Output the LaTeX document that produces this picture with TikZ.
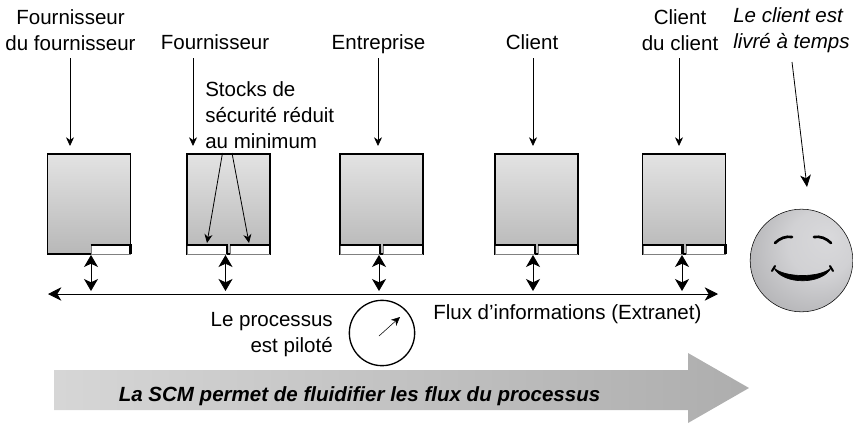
\documentclass[tikz,border=0pt]{standalone}
\usepackage{fontspec}
\setmainfont{Liberation Sans}
\usetikzlibrary{arrows.meta}
\pgfdeclareradialshading{visage}{\pgfpoint{14bp}{12bp}}{rgb(0bp)=(0.85,0.85,0.86);rgb(16bp)=(0.82,0.82,0.83);rgb(40bp)=(0.66,0.66,0.67);rgb(50bp)=(0.60,0.60,0.61)}
\begin{document}
\begin{tikzpicture}[x=0.75pt, y=-0.75pt]
	\tikzset{etiquette/.style={inner sep=0pt, align=center, font=\fontsize{15.4}{19.5}\selectfont},
	boite/.style={draw=black, thick, minimum width=62.25pt, minimum height=75pt, inner sep=0pt, shading angle=-45, top color=gray!22, bottom color=gray!56},
	casier/.style={draw=gray, fill=white, thin, minimum width=29.5pt, minimum height=6.5pt, inner sep=0pt},
	fleche/.style={semithick, -{Stealth[length=6.5pt, width=6pt, inset=2pt]}},
	double/.style={semithick, {Stealth[length=9pt, width=10.5pt, inset=2.5pt]}-{Stealth[length=9pt, width=10.5pt, inset=2.5pt]}}};
	\useasboundingbox (0,0) rectangle (853,425);

	\foreach \name/\x/\xh/\xb in {a/89/70/91, b/228.5/193/225.5, c/381.5/378/379, d/536.5/533/533, e/684/679/682}{
		\node[boite] (b-\name) at (\x, 204) {};
		\coordinate (h-\name) at (\xh, 58);
		\coordinate (p-\name) at (\xh, 146);
		\coordinate (s-\name) at (\xb, 255);
		\coordinate (f-\name) at (\xb, 291);
		\draw[fleche] (h-\name) -- (p-\name);
		\draw[double] (s-\name) -- (f-\name);
	}

	% casiers du bas
	\foreach \name/\x in {a/110.5, b1/207, b2/250, c1/360, c2/403, d1/515, d2/558, e1/662.5, e2/705.5}{
		\node[casier] (c-\name) at (\x, 249.5) {};
		\draw[line width=2pt] (c-\name.north west) -- (c-\name.north east) -- (c-\name.south east);
	}

	\node[etiquette] (l-a) at (70.5, 30) {Fournisseur\\du fournisseur};
	\node[etiquette, anchor=base] (l-b) at (215, 49) {Fournisseur};
	\node[etiquette, anchor=base] (l-c) at (378.5, 49) {Entreprise};
	\node[etiquette, anchor=base] (l-d) at (532, 49) {Client};
	\node[etiquette] (l-e) at (680, 30) {Client\\du client};
	\node[etiquette, font=\fontsize{15.4}{19.5}\selectfont\itshape, align=left, anchor=west] (l-f) at (733, 30) {Le client est\\livré à temps};
	\node[etiquette, align=left, anchor=west] (stocks) at (205, 115) {Stocks de\\sécurité réduit\\au minimum};

	\coordinate (st1) at (222.5, 153);
	\coordinate (st2) at (232, 153);
	\coordinate (ca1) at (207, 243);
	\coordinate (ca2) at (249, 243);
	\draw[fleche] (st1) -- (ca1);
	\draw[fleche] (st2) -- (ca2);

	% le client
	\node[circle, draw=black, thin, minimum size=77pt, inner sep=0pt, shading=visage] (visage) at (801.5, 260.5) {};
	\coordinate (h-f) at (792, 62);
	\coordinate (p-f) at (807, 187);
	\draw[semithick, -{Stealth[length=9pt, width=8pt, inset=2.5pt]}] (h-f) -- (p-f);
	\draw[line width=2pt, line cap=round] (775, 243) .. controls (780, 238) and (786, 236) .. (792, 237);
	\draw[line width=2pt, line cap=round] (814, 237) .. controls (820, 236) and (826, 238) .. (831, 243);
	\fill[draw=black, line width=0.5pt, line join=round] (774, 268) .. controls (785, 278) and (820, 278) .. (831, 268) .. controls (822, 285) and (783, 285) .. cycle;
	\draw[line width=1.5pt, line cap=round] (772, 271) -- (775, 266);
	\draw[line width=1.5pt, line cap=round] (833, 271) -- (830, 266);

	% flux d'informations
	\coordinate (fl-g) at (48, 294);
	\coordinate (fl-d) at (718, 294);
	\draw[semithick, {Stealth[length=10pt, width=10pt, inset=3pt]}-{Stealth[length=10pt, width=10pt, inset=3pt]}] (fl-g) -- (fl-d);
	\node[etiquette, anchor=base west] (flux) at (433, 319) {Flux d’informations (Extranet)};
	\node[etiquette, align=right, anchor=east] (proc) at (333, 334.5) {Le processus\\est piloté};
	\node[circle, draw=black, line width=1pt, minimum size=49pt, inner sep=0pt] (cadran) at (382, 333) {};
	\coordinate (ai-b) at (379, 336);
	\coordinate (ai-h) at (400, 317);
	\draw[fleche, thin] (ai-b) -- (ai-h);

	% fleche du bas
	\shade[left color=gray!32, right color=gray!64] (54, 370) -- (688, 370) -- (688, 353) -- (749, 388) -- (688, 423) -- (688, 410) -- (54, 410) -- cycle;
	\node[etiquette, anchor=base, font=\fontsize{15.4}{19.5}\selectfont\bfseries\itshape] (scm) at (359.5, 401) {La SCM permet de fluidifier les flux du processus};
\end{tikzpicture}
\end{document}
